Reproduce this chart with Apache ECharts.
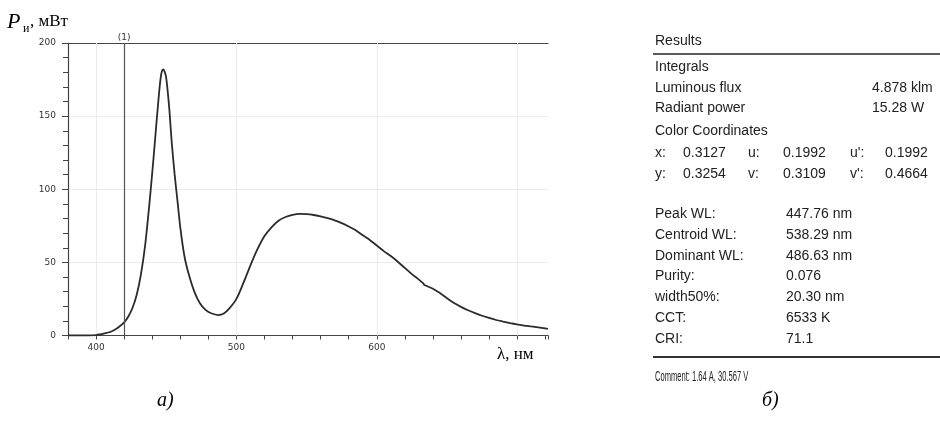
<!DOCTYPE html>
<html><head><meta charset="utf-8">
<script src="https://cdn.jsdelivr.net/npm/echarts@6/dist/echarts.min.js"></script>
<style>html,body{margin:0;padding:0;background:#fff}#c{width:940px;height:431px}</style>
</head><body><div id="c"></div>
<script>
// Spectrum data (wavelength nm, power mW)
var wavelengths = [380,390,395,400,403,406,410,413,416,420,423,426,429,432,435,438,441,443,445,446,447,448,449,450,452,454,456,458,460,463,466,470,474,478,482,487,491,495,500,505,510,515,520,525,530,535,540,545,550,555,560,565,570,575,580,585,590,595,600,605,610,615,620,625,630,633,634,640,645,650,655,660,665,670,675,680,685,690,695,700,705,710,715,720,722];
var power = [0,0,0,0.3,0.8,1.4,2.4,3.8,5.6,9,13,19,28,42,62,90,122,145,167,176,181,182,180,176,157,131,110,92,74,54,42,30,22,17.5,15.2,14,15,18.5,25,36,48,59,68,74,78.5,81,82.5,83.2,83,82.4,81.4,80.2,78.7,76.8,74.5,72,68.5,65.3,61.5,57.7,54.3,50.4,46.2,42,38.2,35.8,34.5,32,29,25.5,22.2,19.6,17.3,15.3,13.5,12,10.6,9.5,8.5,7.6,6.8,6.2,5.6,4.9,4.6];
var xTickLabels = [400,500,600];
var yTickLabels = [0,50,100,150,200];
var xGridValues = [400,500,600,700];
var markerWavelength = 420;
var markerLabel = '(1)';

// Results panel
var resultRows = [
  ['Luminous flux','4.878 klm'],
  ['Radiant power','15.28 W']
];
var colorCoordRows = [
  ['x:','0.3127','u:','0.1992',"u':",'0.1992'],
  ['y:','0.3254','v:','0.3109',"v':",'0.4664']
];
var paramRows = [
  ['Peak WL:','447.76 nm'],
  ['Centroid WL:','538.29 nm'],
  ['Dominant WL:','486.63 nm'],
  ['Purity:','0.076'],
  ['width50%:','20.30 nm'],
  ['CCT:','6533 K'],
  ['CRI:','71.1']
];
var commentText = 'Comment: 1.64 A, 30.567 V';

var chart = echarts.init(document.getElementById('c'), null, {renderer:'canvas'});
var seriesData = wavelengths.map(function(w,i){return [w, power[i]];});

var sans = '"Liberation Sans", Arial, sans-serif';
var serif = '"Liberation Serif", "Times New Roman", serif';
var tickFont = '"DejaVu Sans", Verdana, sans-serif';
var axisCol = '#444';

var graphics = [];
function txt(x,y,s,size,opts){
  opts = opts || {};
  var g = {type:'text', x:x, y:y, style:{text:s, font:(opts.style||'normal')+' '+size+'px '+(opts.family||sans), fill:opts.fill||'#222', textVerticalAlign:'middle'}};
  if (opts.scaleX) { g.scaleX = opts.scaleX; }
  graphics.push(g);
}
// axis titles
txt(7, 22, 'P', 22, {family:serif, style:'italic', fill:'#000'});
txt(23, 29, 'и', 12, {family:serif, fill:'#000'});
txt(30, 22, ', мВт', 17, {family:serif, fill:'#000'});
txt(497, 355, 'λ, нм', 17, {family:serif, fill:'#000'});
txt(157, 401, 'а)', 20, {family:serif, style:'italic', fill:'#000'});
txt(762, 401, 'б)', 20, {family:serif, style:'italic', fill:'#000'});

// results panel
var px = 655;
txt(px, 41, 'Results', 14, {fill:'#222'});
graphics.push({type:'line', shape:{x1:653,y1:54,x2:940,y2:54}, style:{stroke:'#222', lineWidth:1.5}});
txt(px, 67, 'Integrals', 14, {fill:'#222'});
var yy = [88,108];
resultRows.forEach(function(r,i){ txt(px, yy[i], r[0], 14); txt(872, yy[i], r[1], 14); });
txt(px, 131, 'Color Coordinates', 14, {fill:'#222'});
var ccY = [153,174];
var ccX = [655,683,748,783,850,885];
colorCoordRows.forEach(function(r,i){ r.forEach(function(s,j){ txt(ccX[j], ccY[i], s, 14); }); });
var pY = [214,235,256,276,297,318,339];
paramRows.forEach(function(r,i){ txt(px, pY[i], r[0], 14); txt(786, pY[i], r[1], 14); });
graphics.push({type:'line', shape:{x1:653,y1:357,x2:940,y2:357}, style:{stroke:'#333', lineWidth:2}});
txt(px, 377, commentText, 14, {scaleX:0.54});

var option = {
  animation:false,
  backgroundColor:'#fff',
  grid:{left:68, top:43, right:392, bottom:95.5, containLabel:false},
  xAxis:[{
    type:'value', min:380, max:722, interval:20,
    axisLine:{show:true, lineStyle:{color:axisCol, width:1.2}},
    axisTick:{show:true, length:4, lineStyle:{color:axisCol}},
    splitLine:{show:false},
    axisLabel:{margin:8, fontSize:9, color:'#333', fontFamily:tickFont,
      formatter:function(v){ return xTickLabels.indexOf(v)>=0 ? String(v) : ''; }}
  },{
    type:'value', position:'top', min:380, max:722,
    axisLine:{show:true, onZero:false, lineStyle:{color:axisCol, width:1.2}},
    axisTick:{show:false}, axisLabel:{show:false}, splitLine:{show:false}
  }],
  yAxis:{
    type:'value', min:0, max:200, interval:50,
    axisLine:{show:true, lineStyle:{color:axisCol, width:1.2}},
    axisTick:{show:true, length:6, lineStyle:{color:axisCol}},
    minorTick:{show:true, splitNumber:5, length:5, lineStyle:{color:axisCol}},
    splitLine:{show:true, lineStyle:{color:'#ececec', width:1}},
    axisLabel:{margin:12, fontSize:9, color:'#333', fontFamily:tickFont,
      formatter:function(v){ return yTickLabels.indexOf(v)>=0 ? String(v) : ''; }}
  },
  series:[{
    type:'line', xAxisIndex:0, data:[], silent:true, z:1,
    markLine:{
      silent:true, symbol:['none','none'], z:1,
      lineStyle:{color:'#ececec', width:1, type:'solid'},
      label:{show:false},
      data: xGridValues.map(function(v){ return [{coord:[v,0]}, {coord:[v,200]}]; })
    }
  },{
    type:'line', xAxisIndex:0, data:seriesData, showSymbol:false, smooth:0.3,
    lineStyle:{color:'#2b2b2b', width:1.8},
    markLine:{
      silent:true, symbol:['none','none'],
      lineStyle:{color:'#555', width:1.2, type:'solid'},
      label:{show:true, position:'end', formatter:markerLabel, fontSize:9, color:'#333', fontFamily:tickFont, distance:1},
      data:[[{coord:[markerWavelength,0]},{coord:[markerWavelength,200]}]]
    },
    z:3
  }],
  graphic:graphics
};
chart.setOption(option);
</script></body></html>
